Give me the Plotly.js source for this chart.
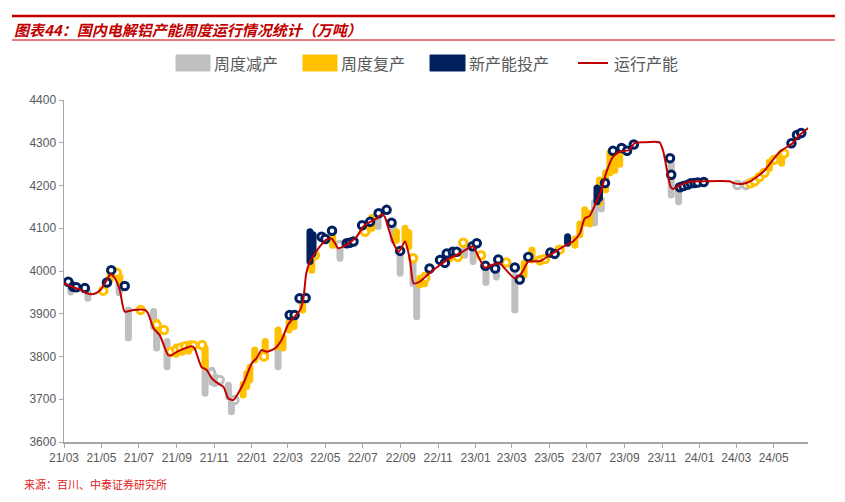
<!DOCTYPE html>
<html>
<head>
<meta charset="utf-8">
<script src="https://cdn.plot.ly/plotly-3.0.1.min.js"></script>
<style>
  html, body { margin: 0; padding: 0; background: #ffffff; }
  #chart { width: 845px; height: 502px; }
  /* Excel draws these thick segments with round ends */
  .js-line { stroke-linecap: round !important; }
</style>
</head>
<body>
<div id="chart"></div>
<script>
  // 运行产能 (万吨), weekly line
  var lineDates = [
    "2021-03-02", "2021-03-16", "2021-03-27", "2021-04-07", "2021-04-18", "2021-04-29",
    "2021-05-10", "2021-05-16", "2021-05-23", "2021-05-31", "2021-06-08", "2021-06-22",
    "2021-07-11", "2021-07-16", "2021-07-25", "2021-08-04", "2021-08-18", "2021-08-23",
    "2021-09-01", "2021-09-14", "2021-09-25", "2021-09-30", "2021-10-11", "2021-10-20",
    "2021-10-28", "2021-11-07", "2021-11-16", "2021-11-24", "2021-12-02", "2021-12-10",
    "2021-12-21", "2022-01-01", "2022-01-09", "2022-01-17", "2022-01-25", "2022-02-08",
    "2022-02-19", "2022-03-01", "2022-03-12", "2022-03-21", "2022-03-26", "2022-03-31",
    "2022-04-06", "2022-04-14", "2022-04-22", "2022-05-03", "2022-05-11", "2022-05-17",
    "2022-05-22", "2022-05-30", "2022-06-10", "2022-06-21", "2022-07-02", "2022-07-13",
    "2022-07-24", "2022-08-01", "2022-08-06", "2022-08-11", "2022-08-20", "2022-08-29",
    "2022-09-08", "2022-09-16", "2022-09-22", "2022-10-02", "2022-10-18", "2022-11-04",
    "2022-11-20", "2022-12-06", "2022-12-20", "2022-12-28", "2023-01-02", "2023-01-16",
    "2023-01-27", "2023-02-09", "2023-02-20", "2023-03-06", "2023-03-17", "2023-03-28",
    "2023-04-16", "2023-05-02", "2023-05-24", "2023-06-09", "2023-06-20", "2023-06-28",
    "2023-07-06", "2023-07-17", "2023-07-25", "2023-08-02", "2023-08-13", "2023-08-24",
    "2023-09-09", "2023-09-17", "2023-10-01", "2023-10-28", "2023-11-03", "2023-11-15",
    "2023-11-19", "2023-11-30", "2023-12-16", "2024-01-01", "2024-02-19", "2024-02-27",
    "2024-03-12", "2024-03-23", "2024-04-14", "2024-05-11", "2024-06-01", "2024-06-12",
    "2024-06-26"
  ];
  var lineValues = [
    3971, 3962, 3957, 3948, 3946, 3955,
    3979, 3993, 3983, 3955, 3905, 3909,
    3909, 3901, 3866, 3850, 3803, 3803,
    3811, 3819, 3824, 3819, 3776, 3768,
    3749, 3737, 3729, 3702, 3698, 3714,
    3745, 3784, 3796, 3815, 3811, 3819,
    3839, 3874, 3893, 3909, 3932, 3995,
    4022, 4041, 4057, 4074, 4076, 4065,
    4053, 4057, 4067, 4080, 4104, 4115,
    4123, 4133, 4127, 4104, 4065, 4045,
    4069, 4026, 3971, 3975, 3995, 4014,
    4030, 4041, 4053, 4058, 4045, 4008,
    4014, 4018, 4002, 3983, 3995, 4022,
    4023, 4037, 4057, 4069, 4088, 4123,
    4129, 4162, 4189, 4230, 4267, 4279,
    4283, 4299, 4301, 4301, 4280, 4197,
    4192, 4201, 4209, 4210, 4210, 4205,
    4204, 4209, 4232, 4279, 4299, 4318,
    4334
  ];

  // 周度减产: week, capacity before, capacity after
  var cutDates = [
    "2021-03-12", "2021-04-09", "2021-05-30", "2021-06-14", "2021-07-25", "2021-07-30",
    "2021-08-16", "2021-10-17", "2021-10-28", "2021-11-02", "2021-11-24", "2021-11-29",
    "2022-02-13", "2022-05-25", "2022-07-26", "2022-08-20", "2022-08-31", "2022-09-21",
    "2022-09-27", "2022-12-14", "2022-12-28", "2023-01-18", "2023-02-04", "2023-03-06",
    "2023-07-14", "2023-07-25", "2023-11-16", "2023-11-28"
  ];
  var cutTop = [
    3972, 3951, 3972, 3909, 3905, 3862,
    3835, 3790, 3768, 3753, 3733, 3698,
    3823, 4057, 4118, 4104, 4037, 4026,
    3963, 4054, 4049, 4006, 4002, 3987,
    4160, 4166, 4260, 4193
  ];
  var cutBottom = [
    3951, 3936, 3949, 3843, 3870, 3820,
    3776, 3714, 3740, 3737, 3706, 3671,
    3776, 4030, 4104, 4072, 3995, 3971,
    3893, 4037, 4022, 3973, 3986, 3909,
    4112, 4145, 4178, 4162
  ];

  // 周度复产
  var resumeDates = [
    "2021-05-15", "2021-05-31", "2021-07-30", "2021-08-31", "2021-09-10", "2021-09-20",
    "2021-10-17", "2021-12-18", "2021-12-24", "2021-12-29", "2022-01-06", "2022-01-23",
    "2022-02-13", "2022-02-21", "2022-03-03", "2022-03-11", "2022-03-25", "2022-04-09",
    "2022-05-13", "2022-07-09", "2022-07-16", "2022-08-25", "2022-09-08", "2022-09-14",
    "2022-10-02", "2022-10-10", "2022-11-20", "2023-03-21", "2023-04-03", "2023-06-12",
    "2023-06-20", "2023-06-28", "2023-07-06", "2023-07-22", "2023-08-01", "2023-08-08",
    "2023-08-16", "2023-08-24", "2024-04-24", "2024-05-14"
  ];
  var resumeTop = [
    3990, 3987, 3880, 3822, 3826, 3828,
    3820, 3735, 3760, 3775, 3815, 3835,
    3862, 3845, 3880, 3893, 3932, 4022,
    4080, 4112, 4125, 4092, 4100, 4090,
    3983, 3990, 4040, 4018, 4049, 4075,
    4110, 4143, 4135, 4213, 4230, 4276,
    4270, 4280, 4255, 4276
  ];
  var resumeBottom = [
    3979, 3975, 3866, 3805, 3810, 3812,
    3776, 3710, 3730, 3745, 3792, 3808,
    3823, 3820, 3862, 3870, 3909, 4002,
    4060, 4095, 4100, 4072, 4072, 4057,
    3967, 3970, 4028, 3990, 4026, 4060,
    4085, 4112, 4110, 4159, 4190, 4230,
    4235, 4250, 4240, 4252
  ];

  // 新产能投产
  var newDates = ["2022-04-06", "2022-04-11", "2023-05-31", "2023-07-18", "2023-07-22"];
  var newTop = [4092, 4085, 4080, 4194, 4190];
  var newBottom = [4022, 4040, 4065, 4162, 4170];

  // single-week entries drawn as rings
  var newRingDates = [
    "2021-03-08", "2021-03-16", "2021-03-21", "2021-04-04", "2021-05-10", "2021-05-17",
    "2021-06-08", "2022-03-04", "2022-03-12", "2022-03-20", "2022-03-30", "2022-04-25",
    "2022-05-01", "2022-05-12", "2022-06-05", "2022-06-10", "2022-06-16", "2022-06-30",
    "2022-07-13", "2022-07-27", "2022-08-09", "2022-08-17", "2022-08-31", "2022-10-18",
    "2022-11-04", "2022-11-12", "2022-11-15", "2022-11-25", "2022-12-01", "2022-12-27",
    "2023-01-03", "2023-01-17", "2023-02-02", "2023-02-07", "2023-03-06", "2023-03-14",
    "2023-03-28", "2023-05-03", "2023-05-10", "2023-07-31", "2023-08-13", "2023-08-27",
    "2023-09-05", "2023-09-16", "2023-11-14", "2023-11-16", "2023-11-30", "2023-12-06",
    "2023-12-13", "2023-12-18", "2023-12-24", "2023-12-29", "2024-01-08", "2024-05-30",
    "2024-06-08", "2024-06-15"
  ];
  var newRingValues = [
    3975, 3963, 3962, 3960, 3973, 4002,
    3965, 3897, 3897, 3936, 3937, 4080,
    4075, 4094, 4065, 4066, 4069, 4107,
    4115, 4135, 4143, 4113, 4047, 4006,
    4026, 4019, 4041, 4045, 4045, 4058,
    4065, 4012, 4006, 4027, 4008, 3980,
    4033, 4043, 4040, 4206, 4281, 4288,
    4281, 4296, 4264, 4225, 4196, 4199,
    4202, 4205, 4206, 4207, 4208, 4299,
    4318, 4323
  ];
  var resumeRingDates = [
    "2021-05-04", "2021-05-26", "2021-07-04", "2021-07-30", "2021-08-11", "2021-08-22",
    "2021-08-31", "2021-09-07", "2021-09-15", "2021-09-23", "2021-09-28", "2021-10-12",
    "2022-01-21", "2022-04-14", "2022-07-05", "2022-09-21", "2022-10-11", "2022-11-18",
    "2022-11-23", "2022-12-03", "2022-12-12", "2023-01-10", "2023-02-20", "2023-04-16",
    "2023-04-24", "2023-05-18", "2024-03-24", "2024-03-31", "2024-04-08", "2024-04-16",
    "2024-05-02", "2024-05-18"
  ];
  var resumeRingValues = [
    3954, 3996, 3909, 3874, 3862, 3811,
    3815, 3820, 3824, 3826, 3826, 3827,
    3800, 4037, 4092, 4030, 3984, 4035,
    4038, 4033, 4066, 4037, 4020, 4025,
    4028, 4050, 4205, 4210, 4220, 4230,
    4260, 4275
  ];
  var cutRingDates = ["2021-10-27", "2021-11-10", "2021-12-04", "2022-05-24", "2024-03-03", "2024-03-17"];
  var cutRingValues = [3761, 3745, 3698, 4061, 4201, 4201];

  var tickDates = [
    "2021-03-01", "2021-05-01", "2021-07-01", "2021-09-01", "2021-11-01", "2022-01-01",
    "2022-03-01", "2022-05-01", "2022-07-01", "2022-09-01", "2022-11-01", "2023-01-01",
    "2023-03-01", "2023-05-01", "2023-07-01", "2023-09-01", "2023-11-01", "2024-01-01",
    "2024-03-01", "2024-05-01"
  ];
  var tickLabels = [
    "21/03", "21/05", "21/07", "21/09", "21/11", "22/01",
    "22/03", "22/05", "22/07", "22/09", "22/11", "23/01",
    "23/03", "23/05", "23/07", "23/09", "23/11", "24/01",
    "24/03", "24/05"
  ];

  var GRAY = "#BFBFBF";
  var YELLOW = "#FFC000";
  var NAVY = "#002060";
  var RED = "#C00000";
  var TEXT = "#595959";

  // vertical bars as one line trace, broken with nulls
  function barTrace(dates, top, bottom, color) {
    var x = [], y = [];
    dates.forEach(function (d, i) {
      x.push(d, d, null);
      y.push(top[i], bottom[i], null);
    });
    return {
      x: x, y: y,
      type: "scatter",
      mode: "lines",
      line: { color: color, width: 7 },
      connectgaps: false,
      hoverinfo: "skip",
      showlegend: false
    };
  }

  function ringTrace(dates, values, color) {
    return {
      x: dates, y: values,
      type: "scatter",
      mode: "markers",
      marker: {
        symbol: "circle",
        size: 7.5,
        color: "#ffffff",
        line: { color: color, width: 3 }
      },
      hoverinfo: "skip",
      showlegend: false
    };
  }

  var traces = [
    barTrace(cutDates, cutTop, cutBottom, GRAY),
    ringTrace(cutRingDates, cutRingValues, GRAY),
    barTrace(resumeDates, resumeTop, resumeBottom, YELLOW),
    ringTrace(resumeRingDates, resumeRingValues, YELLOW),
    barTrace(newDates, newTop, newBottom, NAVY),
    ringTrace(newRingDates, newRingValues, NAVY),
    {
      x: lineDates,
      y: lineValues,
      type: "scatter",
      mode: "lines",
      line: { color: RED, width: 2, shape: "spline", smoothing: 0.6 },
      hoverinfo: "skip",
      showlegend: false
    }
  ];

  /*
    Plot area is 744 x 342 px (l 64, t 100).
    Header and legend sit above it in paper coordinates.
  */
  function px(xp) { return (xp - 64) / 744; }
  function py(yp) { return (442 - yp) / 342; }

  var legendItems = [
    { kind: "box", color: GRAY, x0: 176, x1: 210, label: "周度减产", tx: 212 },
    { kind: "box", color: YELLOW, x0: 303, x1: 337, label: "周度复产", tx: 339 },
    { kind: "box", color: NAVY, x0: 430, x1: 465, label: "新产能投产", tx: 467 },
    { kind: "line", color: RED, x0: 578, x1: 608, label: "运行产能", tx: 612 }
  ];

  var shapes = [
    { type: "line", xref: "paper", yref: "paper", x0: px(12), x1: px(835), y0: py(16), y1: py(16),
      line: { color: RED, width: 2.5 } },
    { type: "line", xref: "paper", yref: "paper", x0: px(12), x1: px(835), y0: py(40), y1: py(40),
      line: { color: RED, width: 1 } }
  ];
  var annotations = [
    { xref: "paper", yref: "paper", x: px(12), y: py(29), xanchor: "left", yanchor: "middle",
      showarrow: false, text: "<b><i>图表44：国内电解铝产能周度运行情况统计（万吨）</i></b>",
      font: { family: "Noto Sans CJK SC, sans-serif", size: 15, color: RED } },
    { xref: "paper", yref: "paper", x: px(22), y: py(484), xanchor: "left", yanchor: "middle",
      showarrow: false, text: "来源：百川、中泰证券研究所",
      font: { family: "Noto Sans CJK SC, sans-serif", size: 11, color: "#E02020" } }
  ];

  legendItems.forEach(function (it) {
    if (it.kind === "box") {
      shapes.push({ type: "rect", xref: "paper", yref: "paper",
        x0: px(it.x0), x1: px(it.x1), y0: py(71), y1: py(55),
        fillcolor: it.color, line: { color: it.color, width: 1 } });
    } else {
      shapes.push({ type: "line", xref: "paper", yref: "paper",
        x0: px(it.x0), x1: px(it.x1), y0: py(63), y1: py(63),
        line: { color: it.color, width: 2 } });
    }
    annotations.push({ xref: "paper", yref: "paper", x: px(it.tx), y: py(63),
      xanchor: "left", yanchor: "middle", showarrow: false, text: it.label,
      font: { family: "Noto Sans CJK SC, sans-serif", size: 16, color: TEXT } });
  });

  var layout = {
    width: 845,
    height: 502,
    margin: { l: 64, r: 37, t: 100, b: 60 },
    paper_bgcolor: "#ffffff",
    plot_bgcolor: "#ffffff",
    showlegend: false,
    hovermode: false,
    font: { family: "Liberation Sans, Arial, sans-serif", size: 12, color: TEXT },
    xaxis: {
      type: "date",
      range: ["2021-03-01", "2024-06-26"],
      tickmode: "array",
      tickvals: tickDates,
      ticktext: tickLabels,
      showgrid: false,
      zeroline: false,
      showline: true,
      linecolor: "#A6A6A6",
      linewidth: 1.5,
      ticks: "outside",
      ticklen: 4,
      tickcolor: "#A6A6A6",
      tickfont: { size: 12, color: TEXT }
    },
    yaxis: {
      range: [3600, 4400],
      tickmode: "linear",
      tick0: 3600,
      dtick: 100,
      showgrid: false,
      zeroline: false,
      showline: true,
      linecolor: "#A6A6A6",
      linewidth: 1.5,
      ticks: "outside",
      ticklen: 4,
      tickcolor: "#A6A6A6",
      tickfont: { size: 12, color: TEXT }
    },
    shapes: shapes,
    annotations: annotations
  };

  Plotly.newPlot("chart", traces, layout, { displayModeBar: false, staticPlot: true });
</script>
</body>
</html>
